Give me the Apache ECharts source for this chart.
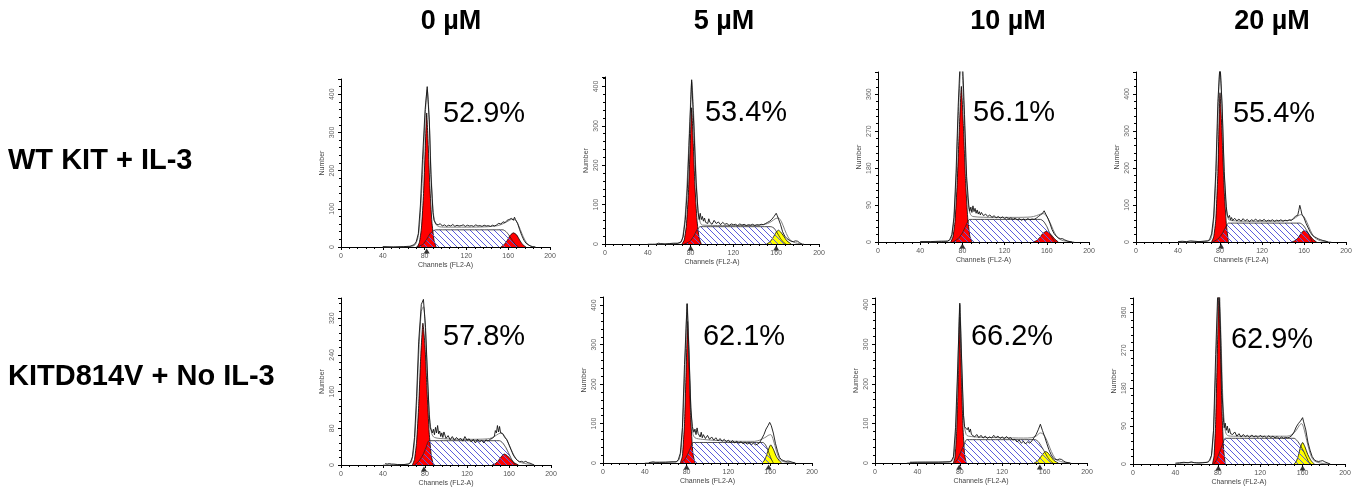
<!DOCTYPE html>
<html><head><meta charset="utf-8">
<script src="https://cdn.jsdelivr.net/npm/echarts@6/dist/echarts.min.js"></script>
<style>html,body{margin:0;padding:0;background:#fff}#c{width:1362px;height:490px}</style>
</head><body><div id="c"></div>
<script>
// ---------- labels ----------
const COL_TITLES = ['0 µM', '5 µM', '10 µM', '20 µM'];
const ROW_TITLES = ['WT KIT + IL-3', 'KITD814V + No IL-3'];
const PCT = ['52.9%', '53.4%', '56.1%', '55.4%', '57.8%', '62.1%', '66.2%', '62.9%'];
const X_NAME = 'Channels (FL2-A)';
const Y_NAME = 'Number';
// ---------- axes ----------
const X_MAX = 200, X_STEP = 40;
const Y_MAX = [440, 424, 414, 459, 364, 421, 417, 394];
const Y_STEP = [100, 100, 90, 100, 80, 100, 100, 90];
// ---------- data: [channel, count] ----------
// Panel 1: WT KIT + IL-3, 0 µM
const G1_1 = [[73,0],[75,12],[77,50],[79,140],[80.5,250],[82,351],[83.5,265],[85,160],[87,65],[89,18],[91,0]];
const S_1 = [[72,0],[78,6],[82,20],[85,34],[88,42],[91,45],[155,45],[158,40],[161,30],[164,17],[167,6],[170,0]];
const G2_1 = [[153,0],[156,6],[159,17],[162,31],[165,37],[168,32],[171,18],[174,6],[177,0]];
const FIT_1 = [[40,0],[66,1],[71,6],[74,30],[76,90],[78,190],[80.5,340],[82.5,412],[84.5,330],[86,210],[88,100],[90,64],[93,54],[100,52],[120,52],[140,53],[150,56],[156,62],[160,68],[164,73],[167,70],[170,56],[173,36],[176,18],[179,7],[182,2],[186,0]];
const HIST_1 = [[40,1],[50,0],[60,1],[66,2],[70,6],[72,14],[74,35],[76,110],[78,230],[80.5,360],[82.5,420],[84.5,330],[86,190],[88,90],[89,70],[90,72],[91,60],[93,58],[95,61],[97,55],[99,58],[101,54],[103,57],[105,55],[107,59],[109,54],[111,57],[113,55],[115,56],[117,58],[119,54],[121,57],[123,55],[125,56],[127,54],[129,58],[131,55],[133,56],[135,54],[137,57],[139,55],[141,56],[143,54],[145,57],[147,55],[149,58],[151,62],[153,60],[155,66],[157,64],[159,70],[161,72],[163,75],[164,80],[165,70],[166,78],[167,72],[169,62],[171,45],[173,30],[175,18],[177,10],[179,6],[181,3],[183,1],[186,0]];
const MARK_1 = [82];
// Panel 2: WT KIT + IL-3, 5 µM
const G1_2 = [[72,0],[74,10],[76,45],[78,130],[79.5,240],[81,346],[82.5,255],[84,150],[86,60],[88,15],[90,0]];
const S_2 = [[74,0],[79,6],[83,20],[86,36],[89,44],[155,44],[158,40],[161,28],[164,14],[167,4],[169,0]];
const G2_2 = [[151,0],[154,5],[157,16],[160,30],[162,35],[164,31],[167,20],[170,8],[174,0]];
const FIT_2 = [[40,0],[66,1],[71,5],[73,25],[75,75],[77,170],[79.5,330],[81,412],[83,320],[85,180],[87,85],[89,55],[91,48],[110,47],[130,47],[145,48],[152,52],[156,58],[159,64],[162,66],[165,56],[168,36],[171,18],[174,8],[178,3],[182,1],[186,0]];
const HIST_2 = [[48,0],[50,2],[52,1],[56,0],[60,1],[64,2],[68,2],[71,5],[73,18],[75,60],[77,140],[79,280],[81,417],[83,300],[85,160],[87,80],[88,62],[89,78],[90,62],[91,70],[92,58],[93,66],[94,55],[95,60],[96,52],[97,64],[98,55],[99,58],[100,50],[102,60],[104,52],[106,56],[108,49],[110,55],[112,50],[114,52],[116,47],[118,51],[120,49],[122,50],[124,47],[126,51],[128,48],[130,50],[132,47],[134,49],[136,48],[138,50],[140,47],[142,49],[144,48],[146,50],[148,49],[150,52],[152,55],[154,58],[156,63],[158,70],[160,78],[161,72],[162,68],[164,50],[166,31],[168,20],[170,14],[172,10],[174,7],[176,6],[178,8],[180,7],[182,3],[184,0]];
const MARK_2 = [80, 160];
// Panel 3: WT KIT + IL-3, 10 µM
const G1_3 = [[69,0],[71,12],[73,50],[75,140],[77,270],[79,379],[81,280],[83,150],[85,60],[87,15],[89,0]];
const S_3 = [[71,0],[76,8],[80,22],[83,38],[87,55],[154,55],[157,50],[160,38],[163,20],[166,6],[168,0]];
const G2_3 = [[147,0],[150,3],[153,10],[156,20],[159.5,26],[162,23],[165,15],[168,6],[171,0]];
const FIT_3 = [[40,0],[60,1],[68,4],[70,15],[72,55],[74,150],[76,300],[79,440],[81.5,320],[83.5,170],[85.5,90],[87.5,68],[90,62],[110,60],[130,60],[145,61],[150,64],[154,68],[157,69],[160,62],[163,48],[166,30],[169,15],[172,7],[176,3],[182,1],[186,0]];
const HIST_3 = [[40,1],[50,1],[60,2],[66,2],[68,6],[70,18],[72,60],[74,170],[76,330],[78,450],[80,450],[82,310],[84,160],[86,90],[87,75],[88,85],[89,72],[90,88],[91,74],[92,82],[93,70],[94,78],[95,68],[96,74],[97,66],[98,72],[100,64],[102,68],[104,62],[106,66],[108,60],[110,64],[112,59],[114,62],[116,58],[118,61],[120,57],[122,60],[124,56],[126,59],[128,55],[130,58],[132,54],[134,57],[136,53],[138,56],[140,53],[142,57],[144,54],[146,56],[148,55],[150,58],[152,62],[154,66],[156,70],[157.5,76],[159,68],[161,58],[163,45],[165,30],[167,20],[169,14],[171,10],[173,8],[175,8],[177,5],[180,2],[184,0]];
const MARK_3 = [80];
// Panel 4: WT KIT + IL-3, 20 µM
const G1_4 = [[72,0],[74,14],[76,60],[78,190],[80,403],[82,290],[84,140],[86,50],[88,0]];
const S_4 = [[73,0],[78,8],[82,22],[85,38],[88,51],[156,51],[159,46],[162,34],[165,18],[168,0]];
const G2_4 = [[148,0],[151,3],[154,10],[157,22],[160,31],[163,27],[166,16],[169,6],[172,0]];
const FIT_4 = [[40,0],[60,1],[70,4],[72,15],[74,60],[76,170],[78,340],[80,470],[82,360],[84,190],[86,90],[88,62],[90,58],[110,56],[130,56],[145,58],[150,62],[154,70],[157,74],[160,68],[163,52],[166,32],[169,16],[172,8],[176,3],[182,1],[186,0]];
const HIST_4 = [[40,1],[44,2],[48,1],[52,3],[56,2],[60,1],[64,2],[68,3],[70,6],[72,22],[74,70],[76,190],[78,380],[80,480],[82,370],[84,190],[86,95],[87,72],[88,66],[89,72],[90,60],[91,66],[92,58],[94,64],[96,57],[98,62],[100,56],[102,63],[104,57],[106,61],[108,55],[110,60],[112,57],[114,62],[116,56],[118,60],[120,57],[122,61],[124,56],[126,59],[128,57],[130,60],[132,56],[134,59],[136,57],[138,60],[140,56],[142,59],[144,57],[146,60],[148,58],[150,64],[152,70],[154,72],[155,85],[156,99],[157,88],[158,75],[160,65],[162,50],[164,38],[166,26],[168,18],[170,14],[172,11],[174,8],[176,6],[178,4],[180,3],[183,0]];
const MARK_4 = [81];
// Panel 5: KITD814V + No IL-3, 0 µM
const G1_5 = [[68,0],[70,12],[72,50],[74,130],[76,240],[78,309],[80,260],[82,160],[84,70],[86,20],[88,0]];
const S_5 = [[70,0],[74,8],[78,22],[81,38],[84,53],[151,53],[154,48],[157,38],[160,24],[163,10],[166,0]];
const G2_5 = [[144,0],[147,3],[150,10],[153,19],[155.5,24],[158,21],[161,14],[165,5],[169,0]];
const FIT_5 = [[40,0],[60,1],[66,4],[68,15],[70,50],[72,130],[74,240],[76.5,335],[78.5,345],[80.5,290],[82.5,180],[84.5,100],[86.5,68],[89,60],[100,57],[120,56],[140,57],[146,62],[150,68],[153,70],[156,62],[159,50],[162,34],[165,20],[168,10],[172,5],[178,2],[184,0]];
const HIST_5 = [[42,3],[44,2],[46,3],[48,2],[50,2],[54,1],[60,1],[64,2],[66,5],[68,18],[70,60],[72,150],[74,270],[76.5,350],[78.5,361],[80.5,300],[82.5,190],[84,110],[85,82],[86,84],[87,70],[88,78],[89,66],[90,82],[91,70],[92,86],[93,68],[94,74],[95,62],[96,70],[97,60],[98,72],[100,58],[102,64],[104,55],[106,62],[108,54],[110,60],[112,55],[114,58],[116,52],[118,62],[120,54],[122,57],[124,50],[126,56],[128,48],[130,56],[132,50],[134,54],[136,48],[138,55],[140,52],[142,56],[144,58],[146,62],[147,75],[148,70],[149,86],[150,72],[151,84],[152,70],[154,68],[156,60],[158,55],[160,44],[162,33],[164,22],[166,15],[168,10],[170,7],[172,8],[174,6],[176,8],[178,5],[180,4],[182,2],[184,0]];
const MARK_5 = [79];
// Panel 6: KITD814V + No IL-3, 5 µM
const G1_6 = [[74,0],[76,18],[78,100],[79.5,230],[81,359],[82.5,240],[84,110],[86,25],[88,0]];
const S_6 = [[75,0],[78,8],[81,22],[84,40],[86,52],[153,52],[155,48],[157,38],[159,24],[161,10],[163,0]];
const G2_6 = [[152,0],[154,5],[156,16],[158,32],[160.5,46],[163,35],[166,16],[169,5],[171,0]];
const FIT_6 = [[40,0],[60,2],[70,3],[73,10],[75,40],[77,140],[79,290],[80.5,404],[82,310],[84,150],[86,75],[88,64],[95,60],[110,57],[130,55],[145,55],[150,58],[153,62],[156,66],[158,70],[160.5,72],[163,58],[166,30],[169,10],[172,4],[178,1],[184,0]];
const HIST_6 = [[44,1],[46,2],[48,3],[50,2],[54,2],[60,2],[66,3],[70,3],[72,8],[74,25],[76,90],[78,250],[80.5,404],[82,300],[84,140],[85.5,92],[86,95],[87,78],[88,86],[89,72],[90,89],[91,75],[92,80],[93,66],[94,78],[95,64],[96,72],[98,62],[100,70],[102,60],[104,66],[106,58],[108,64],[110,56],[112,62],[114,55],[116,60],[118,54],[120,58],[122,52],[124,57],[126,51],[128,55],[130,50],[132,54],[134,49],[136,52],[138,48],[140,51],[142,47],[144,50],[146,46],[148,48],[150,52],[152,62],[154,72],[156,86],[158,95],[159.5,103],[161,95],[163,76],[165,50],[167,30],[169,14],[171,8],[173,6],[175,4],[177,5],[179,4],[181,2],[184,0]];
const MARK_6 = [80, 158.5];
// Panel 7: KITD814V + No IL-3, 10 µM
const G1_7 = [[74,0],[75.5,15],[77,80],[78.5,210],[80,369],[81.5,220],[83,90],[84.5,22],[86,0]];
const S_7 = [[75,0],[78,10],[81,28],[84,46],[86.5,59],[151,59],[154,54],[157,42],[160,28],[163,14],[166,4],[168,0]];
const G2_7 = [[150,0],[153,4],[156,14],[159,25],[161,29],[163,26],[166,16],[169,6],[173,0]];
const FIT_7 = [[30,0],[40,2],[71,3],[74,12],[76,70],[78,220],[80,400],[82,230],[84,100],[86,72],[88,68],[100,65],[120,64],[140,63],[148,64],[152,68],[156,76],[159,72],[162,58],[165,38],[168,20],[171,9],[175,4],[180,1],[185,0]];
const HIST_7 = [[33,2],[40,2],[50,2],[60,2],[70,3],[72,5],[74,16],[76,90],[78,240],[80,404],[82,240],[83.5,120],[84.5,92],[86,97],[87,84],[88,90],[89,78],[90,86],[91,72],[92,76],[94,66],[96,72],[98,64],[100,70],[102,63],[104,68],[106,62],[108,66],[110,63],[112,70],[114,64],[116,68],[118,62],[120,66],[122,61],[124,67],[126,62],[128,64],[130,58],[132,60],[134,53],[136,58],[138,50],[140,55],[142,48],[144,54],[146,50],[148,56],[150,64],[152,72],[154,84],[156,98],[158,82],[160,67],[162,50],[164,34],[166,22],[168,13],[170,9],[172,8],[174,10],[176,9],[178,5],[180,2],[184,0]];
const MARK_7 = [79.5, 155.5];
// Panel 8: KITD814V + No IL-3, 20 µM
const G1_8 = [[75,0],[76.5,20],[78,100],[79.5,260],[81,420],[82.5,280],[84,120],[85.5,35],[87,0]];
const S_8 = [[76,0],[79,10],[82,30],[85,50],[87,61],[152,61],[155,55],[158,44],[161,30],[164,14],[166,4],[168,0]];
const G2_8 = [[152,0],[154,6],[156,20],[158,40],[160,51],[162,42],[165,22],[168,8],[171,0]];
const FIT_8 = [[40,0],[50,3],[70,4],[73,10],[75,40],[77,140],[79,300],[81,440],[83,300],[85,140],[87,80],[89,68],[95,66],[120,66],[145,66],[150,70],[154,80],[157,92],[159,96],[161,86],[164,55],[167,26],[170,10],[174,4],[180,1],[186,0]];
const HIST_8 = [[40,2],[44,3],[48,4],[52,3],[55,5],[58,3],[62,2],[66,3],[70,4],[72,8],[74,20],[76,80],[78,260],[80.5,450],[82.5,320],[84,170],[85.5,98],[86,86],[87,97],[88,80],[89,90],[90,74],[91,84],[92,72],[94,70],[96,76],[98,66],[100,72],[102,64],[104,70],[106,65],[108,68],[110,63],[112,69],[114,64],[116,67],[118,63],[120,68],[122,64],[124,66],[126,62],[128,67],[130,63],[132,66],[134,62],[136,65],[138,60],[140,64],[142,61],[144,63],[146,62],[148,64],[150,68],[152,76],[154,88],[156,96],[158,102],[160,110],[161,100],[163,81],[165,52],[167,33],[169,18],[171,10],[173,7],[175,6],[177,7],[179,8],[181,5],[184,2],[186,0]];
const MARK_8 = [80.5, 160];

// ---------- layout & style (not data) ----------
const LAYOUT = [
  [341, 79, 209, 168], [605, 77, 214, 167], [878, 72, 211, 170], [1136, 72, 210, 170],
  [341, 298, 210, 167], [603, 297, 209, 166], [875, 298, 212, 165], [1133, 298, 212, 166]
];
const G2_FILL = ['#ff0000', '#ffff00', '#ff0000', '#ff0000', '#ff0000', '#ffff00', '#ffff00', '#ffff00'];
const TITLE_POS = [[451, 22], [724, 22], [1008, 22], [1272, 22]];
const ROW_POS = [[8, 161], [8, 377]];
const PCT_POS = [[484, 114], [746, 113], [1014, 113], [1274, 114], [484, 337], [744, 337], [1012, 337], [1272, 340]];
const FONT = "'Liberation Sans', Arial, sans-serif";

const PANELS = [
  [G1_1, S_1, G2_1, FIT_1, HIST_1, MARK_1],
  [G1_2, S_2, G2_2, FIT_2, HIST_2, MARK_2],
  [G1_3, S_3, G2_3, FIT_3, HIST_3, MARK_3],
  [G1_4, S_4, G2_4, FIT_4, HIST_4, MARK_4],
  [G1_5, S_5, G2_5, FIT_5, HIST_5, MARK_5],
  [G1_6, S_6, G2_6, FIT_6, HIST_6, MARK_6],
  [G1_7, S_7, G2_7, FIT_7, HIST_7, MARK_7],
  [G1_8, S_8, G2_8, FIT_8, HIST_8, MARK_8]
];

function hatch() {
  const c = document.createElement('canvas');
  c.width = 6; c.height = 6;
  const g = c.getContext('2d');
  g.strokeStyle = '#5c5cdc'; g.lineWidth = 1;
  g.beginPath();
  g.moveTo(-1, -1); g.lineTo(7, 7);
  g.moveTo(-1, 5); g.lineTo(1, 7);
  g.moveTo(5, -1); g.lineTo(7, 1);
  g.stroke();
  return c;
}
const HATCH = { image: hatch(), repeat: 'repeat' };

const grids = [], xAxes = [], yAxes = [], series = [], graphics = [];
PANELS.forEach((p, i) => {
  const [l, t, w, h] = LAYOUT[i];
  grids.push({ left: l, top: t, width: w, height: h, containLabel: false });
  xAxes.push({
    type: 'value', gridIndex: i, min: 0, max: X_MAX, interval: X_STEP,
    axisLine: { show: true, lineStyle: { color: '#000', width: 1 } },
    axisTick: { show: true, length: 3, lineStyle: { color: '#000' } },
    minorTick: { show: true, splitNumber: 5, length: 2, lineStyle: { color: '#000' } },
    splitLine: { show: false }, minorSplitLine: { show: false },
    axisLabel: { fontSize: 7, color: '#555', margin: 6, fontFamily: FONT },
    name: X_NAME, nameLocation: 'middle', nameGap: 15,
    nameTextStyle: { fontSize: 7, color: '#444', fontFamily: FONT }
  });
  yAxes.push({
    type: 'value', gridIndex: i, min: 0, max: Y_MAX[i], interval: Y_STEP[i],
    axisLine: { show: true, lineStyle: { color: '#000', width: 1 } },
    axisTick: { show: true, length: 3, lineStyle: { color: '#000' } },
    minorTick: { show: true, splitNumber: 5, length: 2, lineStyle: { color: '#000' } },
    splitLine: { show: false }, minorSplitLine: { show: false },
    axisLabel: { fontSize: 7, color: '#666', margin: 5, rotate: 90, showMaxLabel: false, fontFamily: FONT },
    name: Y_NAME, nameLocation: 'middle', nameGap: 15, nameRotate: 90,
    nameTextStyle: { fontSize: 7, color: '#444', fontFamily: FONT }
  });
  const base = { type: 'line', xAxisIndex: i, yAxisIndex: i, symbol: 'none', silent: true, animation: false };
  series.push(Object.assign({}, base, {
    data: p[0], smooth: 0.15, z: 2,
    lineStyle: { color: '#000', width: 0.8 }, areaStyle: { color: '#ff0000', opacity: 1 }
  }));
  series.push(Object.assign({}, base, {
    data: p[2], smooth: 0.2, z: 2,
    lineStyle: { color: '#000', width: 0.8 }, areaStyle: { color: G2_FILL[i], opacity: 1 }
  }));
  series.push(Object.assign({}, base, {
    data: p[1], smooth: 0.2, z: 3,
    lineStyle: { color: '#222', width: 0.8 }, areaStyle: { color: HATCH, opacity: 1 }
  }));
  series.push(Object.assign({}, base, {
    data: p[3], smooth: 0.3, z: 4, lineStyle: { color: '#808080', width: 1 }
  }));
  series.push(Object.assign({}, base, {
    data: p[4], z: 5, lineStyle: { color: '#111', width: 0.9 }
  }));
  series.push({
    type: 'scatter', xAxisIndex: i, yAxisIndex: i, silent: true, animation: false,
    data: p[5].map(c => [c, 0]), symbol: 'triangle', symbolSize: [6, 5], symbolOffset: [0, 4],
    itemStyle: { color: '#000' }, clip: false, z: 6
  });
  graphics.push({
    type: 'text', x: PCT_POS[i][0], y: PCT_POS[i][1],
    style: { text: PCT[i], font: '29px ' + FONT, fill: '#000', textAlign: 'center', textVerticalAlign: 'middle' }
  });
});
COL_TITLES.forEach((t, j) => graphics.push({
  type: 'text', x: TITLE_POS[j][0], y: TITLE_POS[j][1],
  style: { text: t, font: 'bold 27px ' + FONT, fill: '#000', textAlign: 'center', textVerticalAlign: 'middle' }
}));
ROW_TITLES.forEach((t, j) => graphics.push({
  type: 'text', x: ROW_POS[j][0], y: ROW_POS[j][1],
  style: { text: t, font: 'bold 29px ' + FONT, fill: '#000', textAlign: 'left', textVerticalAlign: 'middle' }
}));

const chart = echarts.init(document.getElementById('c'), null, { renderer: 'canvas' });
chart.setOption({
  animation: false, backgroundColor: '#fff',
  grid: grids, xAxis: xAxes, yAxis: yAxes, series: series, graphic: graphics
});
</script></body></html>
